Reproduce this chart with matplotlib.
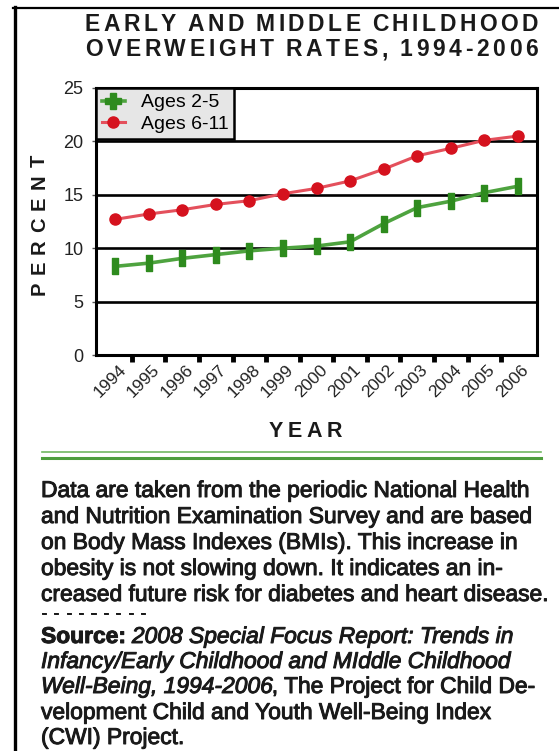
import matplotlib
matplotlib.use('Agg')
import matplotlib.pyplot as plt
from matplotlib.lines import Line2D
from matplotlib.transforms import ScaledTranslation
import matplotlib.patheffects as pe
import numpy as np

# ---------------- data ----------------
years = ['1994', '1995', '1996', '1997', '1998', '1999', '2000',
         '2001', '2002', '2003', '2004', '2005', '2006']
ages_2_5 = [8.3, 8.6, 9.05, 9.4, 9.75, 10.0, 10.2, 10.6, 12.3, 13.8, 14.4, 15.2, 15.8]
ages_6_11 = [12.7, 13.2, 13.6, 14.1, 14.45, 15.1, 15.6, 16.3, 17.4, 18.65, 19.35, 20.1, 20.5]
series_names = ['Ages 2-5', 'Ages 6-11']
y_ticks = [0, 5, 10, 15, 20, 25]

title_lines = ['EARLY AND MIDDLE CHILDHOOD', 'OVERWEIGHT RATES, 1994-2006']
body_lines = [
    'Data are taken from the periodic National Health',
    'and Nutrition Examination Survey and are based',
    'on Body Mass Indexes (BMIs). This increase in',
    'obesity is not slowing down. It indicates an in-',
    'creased future risk for diabetes and heart disease.',
]
source_runs = [
    [('Source: ', 'bold', 'normal'), ('2008 Special Focus Report: Trends in', 'normal', 'italic')],
    [('Infancy/Early Childhood and MIddle Childhood', 'normal', 'italic')],
    [('Well-Being, 1994-2006', 'normal', 'italic'), (', The Project for Child De-', 'normal', 'normal')],
    [('velopment Child and Youth Well-Being Index', 'normal', 'normal')],
    [('(CWI) Project.', 'normal', 'normal')],
]

# ---------------- figure ----------------
W, H = 559, 751
fig = plt.figure(figsize=(W / 100, H / 100), dpi=100)
fig.patch.set_facecolor('white')
renderer = fig.canvas.get_renderer()
FONT = 'Liberation Sans'


def fx(x):
    return x / W


def fy(y):
    return 1 - y / H


def twidth(s, **kw):
    if s.strip() == '':
        return twidth('A' + s + 'A', **kw) - twidth('AA', **kw)
    kw = {k: v for k, v in kw.items() if k != 'path_effects'}
    t = fig.text(0, 0, s, **kw)
    w = t.get_window_extent(renderer).width
    t.remove()
    return w


def spaced_h(x0, x1, ybase, s, **kw):
    ws = [twidth(c, **kw) for c in s]
    sp = ((x1 - x0) - sum(ws)) / (len(s) - 1)
    x = x0
    for c, w in zip(s, ws):
        if c != ' ':
            fig.text(fx(x), fy(ybase), c, ha='left', va='baseline', **kw)
        x += w + sp


def spaced_v(xbase, ybot, ytop, s, **kw):
    ws = [twidth(c, **kw) for c in s]
    sp = ((ybot - ytop) - sum(ws)) / (len(s) - 1)
    y = ybot
    for c, w in zip(s, ws):
        fig.text(fx(xbase), fy(y), c, rotation=90, rotation_mode='anchor',
                 ha='left', va='baseline', **kw)
        y -= w + sp


# frame border (left and top)
fig.add_artist(Line2D([fx(15), fx(15)], [fy(7), fy(751)], color='black', lw=2.4,
                      transform=fig.transFigure))
fig.add_artist(Line2D([fx(13), fx(559)], [fy(8), fy(8)], color='black', lw=1.6,
                      transform=fig.transFigure))

# title
tkw = dict(fontsize=16.5, fontweight='bold', family=FONT, color='#1a1a1a')
spaced_h(85, 538, 31, title_lines[0], **tkw)
spaced_h(85, 538, 56, title_lines[1], **tkw)

# ---------------- axes ----------------
ax_l, ax_r, ax_t, ax_b = 96, 537, 88, 355
ax = fig.add_axes([fx(ax_l), fy(ax_b), (ax_r - ax_l) / W, (ax_b - ax_t) / H])
x = np.arange(len(years))

for v in y_ticks[1:-1]:
    ax.axhline(v, color='black', lw=1.9, zorder=1)

green_m = '#2e8b1e'
green_l = '#4ea33f'
red_m = '#d5121e'
red_l = '#e4505c'
rect = [(-0.42, -1), (0.42, -1), (0.42, 1), (-0.42, 1), (-0.42, -1)]
ax.plot(x, ages_2_5, color=green_l, lw=2.6, marker=rect, markersize=11,
        markerfacecolor=green_m, markeredgecolor=green_m, zorder=3)
ax.plot(x, ages_6_11, color=red_l, lw=2.2, marker='o', markersize=8,
        markerfacecolor=red_m, markeredgecolor=red_m, zorder=3)

ax.set_xlim(-0.57, len(years) - 1 + 0.57)
ax.set_ylim(0, 25)
ax.set_yticks(y_ticks)
ax.set_yticklabels([str(v) for v in y_ticks], fontsize=13, family=FONT, color='#222222')
ax.set_xticks(x)
ax.set_xticklabels(years, fontsize=12.5, family=FONT, color='#222222',
                   rotation=45, ha='right', va='top', rotation_mode='anchor')
ax.set_xticks(x[:-1] + 0.5, minor=True)
ax.tick_params(axis='x', which='major', length=0, pad=5)
ax.tick_params(axis='x', which='minor', length=5, width=3.5, color='black', direction='out')
ax.tick_params(axis='y', length=3, width=1, color='#555555', pad=6)
for lab in ax.get_xticklabels():
    lab.set_transform(lab.get_transform() + ScaledTranslation(0.03, 0, fig.dpi_scale_trans))
for sp in ax.spines.values():
    sp.set_linewidth(2.2)
    sp.set_color('black')

handles = [
    Line2D([], [], color=green_l, lw=2.6, marker='P', markersize=12,
           markerfacecolor=green_m, markeredgecolor=green_m),
    Line2D([], [], color=red_l, lw=2.2, marker='o', markersize=8,
           markerfacecolor=red_m, markeredgecolor=red_m),
]
leg = ax.legend(handles, series_names, loc='upper left', borderaxespad=0,
                fancybox=False, framealpha=1, facecolor='#e6e6e6', edgecolor='black',
                prop={'family': FONT, 'size': 14}, handlelength=1.2,
                handletextpad=0.8, labelspacing=0.2, borderpad=0.3)
leg.get_frame().set_linewidth(1.8)
leg.set_zorder(5)

# axis titles
spaced_v(45, 295, 155, 'PERCENT', fontsize=14.5, fontweight='bold', family=FONT, color='#1a1a1a')
spaced_h(269, 342, 437, 'YEAR', fontsize=15.5, fontweight='bold', family=FONT, color='#1a1a1a')

# green separator lines
fig.add_artist(Line2D([fx(42), fx(541)], [fy(452), fy(452)], color='#72b862', lw=1.2,
                      transform=fig.transFigure))
fig.add_artist(Line2D([fx(42), fx(541)], [fy(457.5), fy(457.5)], color='#4e9e3e', lw=2.2,
                      transform=fig.transFigure))

# body text
base_fs = 12
w5 = twidth(body_lines[4], fontsize=base_fs, family=FONT)
bfs = base_fs * (550 - 41) / w5
stroke = [pe.withStroke(linewidth=0.7, foreground='#1a1a1a')]
bkw = dict(fontsize=bfs, family=FONT, color='#1a1a1a')
body_base = [497, 523, 549, 575, 601]
for yb, line in zip(body_base, body_lines):
    fig.text(fx(41), fy(yb), line, ha='left', va='baseline', path_effects=stroke, **bkw)

spaced_h(41, 146, 618, '---------', fontsize=12, family=FONT, color='#1a1a1a',
         path_effects=stroke)

src_base = [643, 668, 693, 719, 744]
for yb, runs in zip(src_base, source_runs):
    xx = 41
    for s, wt, st in runs:
        kw = dict(bkw, fontweight=wt, fontstyle=st)
        fig.text(fx(xx), fy(yb), s, ha='left', va='baseline', path_effects=stroke, **kw)
        xx += twidth(s, **kw)

fig.savefig('out.png', dpi=100)
